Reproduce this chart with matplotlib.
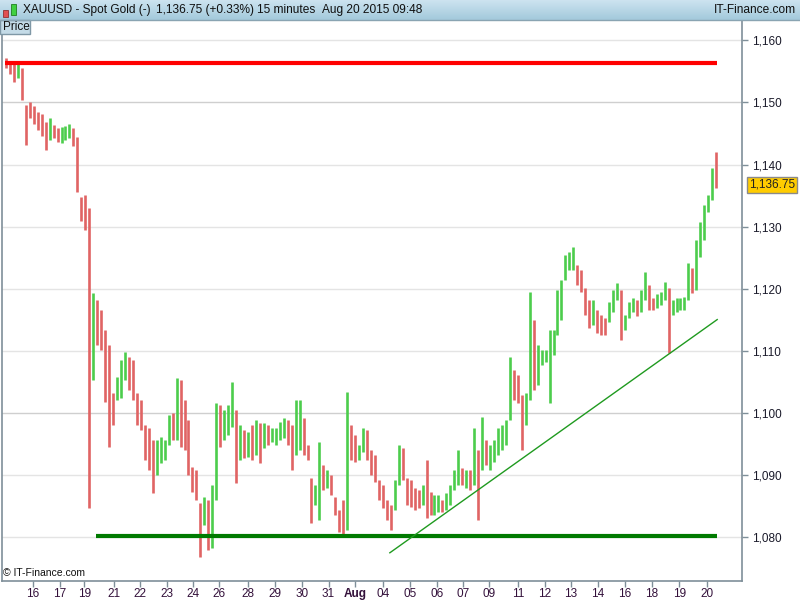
import numpy as np
import matplotlib.pyplot as plt
from matplotlib.patches import Rectangle
from matplotlib.transforms import blended_transform_factory

plt.rcParams['font.family'] = ['Liberation Sans', 'DejaVu Sans']

# XAUUSD (one bar here ~ 2.5 hours of 15 min bars)
first_open = 1156.5
highs = [1157.2, 1156.6, 1156.2, 1156.4, 1155.6, 1149.6, 1150.0, 1149.5, 1148.5, 1148.2,
         1146.9, 1147.5, 1146.4, 1145.9, 1146.1, 1146.2, 1146.6, 1145.9, 1144.5, 1134.8,
         1135.1, 1133.0, 1119.3, 1118.2, 1116.6, 1113.3, 1110.9, 1103.2, 1105.8, 1108.5,
         1109.8, 1109.0, 1108.5, 1103.2, 1102.0, 1098.0, 1097.5, 1095.6, 1095.6, 1096.1,
         1095.6, 1099.6, 1100.0, 1105.6, 1105.3, 1102.0, 1098.8, 1091.2, 1090.8, 1085.4,
         1086.4, 1085.9, 1088.3, 1101.6, 1101.2, 1100.4, 1101.2, 1105.0, 1100.4, 1098.0,
         1097.2, 1096.9, 1098.0, 1098.8, 1098.3, 1098.3, 1098.0, 1097.5, 1097.5, 1098.5,
         1099.1, 1098.8, 1098.0, 1102.0, 1102.0, 1099.1, 1094.8, 1089.5, 1088.3, 1095.3,
         1091.6, 1090.8, 1089.9, 1086.4, 1084.3, 1085.9, 1103.3, 1098.0, 1096.4, 1094.8,
         1097.5, 1097.2, 1094.0, 1093.2, 1089.1, 1088.3, 1085.9, 1085.1, 1089.1, 1094.8,
         1094.3, 1089.5, 1089.1, 1087.9, 1087.5, 1088.3, 1092.4, 1087.2, 1086.7, 1086.7,
         1085.9, 1087.0, 1088.3, 1090.8, 1094.0, 1091.1, 1090.8, 1090.8, 1097.5, 1094.0,
         1099.3, 1095.6, 1094.8, 1095.6, 1097.5, 1098.0, 1098.8, 1109.0, 1106.9, 1106.1,
         1102.9, 1103.2, 1119.5, 1115.0, 1110.9, 1110.1, 1110.1, 1113.3, 1113.3, 1119.8,
         1121.4, 1125.4, 1125.9, 1126.7, 1123.8, 1123.0, 1120.1, 1118.2, 1118.2, 1116.6,
         1115.8, 1115.3, 1117.9, 1119.8, 1120.9, 1119.8, 1115.8, 1117.9, 1118.5, 1118.2,
         1119.8, 1122.7, 1120.6, 1118.5, 1119.1, 1119.5, 1121.1, 1120.1, 1118.2, 1118.5,
         1118.5, 1118.7, 1124.1, 1123.3, 1127.9, 1130.8, 1133.5, 1135.1, 1139.5, 1142.0]
lows = [1155.6, 1154.6, 1153.3, 1154.0, 1150.4, 1143.2, 1147.5, 1146.6, 1145.6, 1144.6,
        1142.4, 1144.0, 1144.3, 1143.7, 1143.5, 1144.0, 1144.3, 1143.0, 1135.6, 1130.9,
        1129.5, 1084.6, 1105.3, 1110.9, 1110.1, 1101.7, 1094.5, 1098.0, 1102.0, 1102.4,
        1105.3, 1103.7, 1102.0, 1098.0, 1097.2, 1092.4, 1090.8, 1087.0, 1090.0, 1091.9,
        1092.4, 1094.8, 1095.6, 1095.6, 1094.5, 1094.0, 1090.0, 1087.2, 1085.9, 1076.7,
        1081.9, 1077.9, 1078.2, 1085.9, 1094.5, 1095.6, 1096.4, 1097.7, 1088.7, 1092.4,
        1092.7, 1092.9, 1092.4, 1093.2, 1091.9, 1094.3, 1094.8, 1095.3, 1094.8, 1095.6,
        1095.9, 1094.8, 1090.8, 1093.2, 1094.0, 1093.2, 1092.4, 1082.2, 1085.1, 1082.7,
        1087.5, 1087.9, 1086.7, 1083.5, 1080.8, 1080.0, 1081.1, 1092.4, 1092.0, 1092.4,
        1093.7, 1092.4, 1090.0, 1088.8, 1085.9, 1084.6, 1082.7, 1081.1, 1084.3, 1088.3,
        1089.1, 1085.1, 1084.8, 1084.3, 1084.6, 1085.1, 1083.0, 1083.5, 1083.5, 1084.0,
        1084.0, 1084.3, 1085.1, 1087.5, 1088.3, 1088.3, 1087.9, 1087.5, 1088.3, 1082.7,
        1090.8, 1091.6, 1090.8, 1092.0, 1093.2, 1094.0, 1094.8, 1098.8, 1102.0, 1101.6,
        1094.0, 1098.0, 1102.0, 1103.7, 1104.5, 1107.7, 1108.2, 1101.6, 1109.3, 1112.5,
        1115.0, 1121.4, 1123.0, 1123.0, 1120.6, 1119.5, 1115.8, 1113.7, 1114.1, 1112.9,
        1112.5, 1112.5, 1114.6, 1116.2, 1118.2, 1111.7, 1113.3, 1115.3, 1116.2, 1115.6,
        1116.2, 1118.2, 1116.6, 1116.6, 1116.9, 1117.4, 1118.2, 1109.6, 1115.8, 1116.2,
        1116.6, 1116.6, 1118.2, 1119.3, 1119.8, 1125.1, 1127.9, 1132.4, 1134.3, 1136.2]
closes = [1156.2, 1155.6, 1154.5, 1155.3, 1151.2, 1148.8, 1148.5, 1148.0, 1146.4, 1145.9,
          1144.3, 1145.9, 1145.1, 1144.3, 1144.8, 1145.1, 1145.6, 1144.3, 1136.7, 1132.7,
          1131.9, 1107.7, 1116.6, 1113.3, 1112.5, 1108.5, 1102.9, 1100.4, 1104.5, 1106.9,
          1108.5, 1106.1, 1104.5, 1100.4, 1098.8, 1095.6, 1093.2, 1092.4, 1094.0, 1094.0,
          1094.8, 1098.0, 1097.2, 1102.9, 1101.2, 1097.2, 1091.6, 1089.1, 1087.5, 1082.7,
          1084.3, 1081.1, 1085.9, 1098.8, 1097.2, 1098.0, 1099.6, 1102.9, 1095.6, 1095.6,
          1094.8, 1095.6, 1094.8, 1096.9, 1095.6, 1096.4, 1095.9, 1096.4, 1096.7, 1097.2,
          1097.5, 1096.4, 1094.8, 1098.0, 1098.0, 1095.6, 1093.7, 1086.7, 1086.7, 1090.8,
          1089.1, 1089.5, 1088.3, 1085.1, 1082.7, 1081.9, 1097.2, 1094.8, 1094.0, 1094.0,
          1095.9, 1094.3, 1092.0, 1090.8, 1087.5, 1085.9, 1084.3, 1083.5, 1087.5, 1092.4,
          1091.6, 1087.5, 1086.7, 1086.2, 1085.9, 1086.7, 1085.9, 1085.1, 1085.1, 1085.4,
          1085.1, 1085.9, 1087.5, 1089.1, 1090.0, 1089.5, 1090.0, 1088.8, 1094.0, 1090.8,
          1095.6, 1093.2, 1093.2, 1094.3, 1095.6, 1095.6, 1097.2, 1106.9, 1104.5, 1103.7,
          1100.4, 1102.0, 1113.3, 1108.5, 1108.5, 1108.8, 1109.3, 1110.9, 1111.7, 1117.4,
          1119.8, 1123.8, 1124.3, 1125.0, 1122.2, 1120.6, 1118.2, 1115.8, 1116.6, 1114.6,
          1114.1, 1113.3, 1116.6, 1118.2, 1119.8, 1114.1, 1115.0, 1116.9, 1117.4, 1116.9,
          1118.2, 1119.8, 1118.2, 1117.9, 1118.2, 1118.5, 1119.8, 1116.6, 1116.9, 1117.4,
          1117.7, 1117.9, 1122.2, 1120.6, 1126.2, 1129.1, 1132.7, 1134.3, 1138.3, 1136.75]

tick_labels = ['16', '17', '19', '21', '22', '23', '24', '26', '28', '29', '30', '31', 'Aug',
               '04', '05', '06', '07', '09', '11', '12', '13', '14', '16', '18', '19', '20']
tick_pos = [6.75, 13.6, 19.7, 27.2, 33.8, 40.5, 47.2, 53.8, 60.9, 67.75, 74.7, 81.3, 88.0,
            95.1, 101.75, 108.6, 115.25, 121.75, 129.1, 135.75, 142.4, 149.25, 155.9,
            162.75, 169.7, 176.6]

resistance = 1156.3
support = 1080.1
support_from = 22.75
trend_x = [96.75, 179.25]
trend_y = [1077.4, 1115.0]
last_price = 1136.75

W, H = 800, 600
fig = plt.figure(figsize=(8, 6), dpi=100)


def fx(x):
    return x / W


def fy(y):
    return 1 - y / H


# chart area
ax = fig.add_axes([fx(2), fy(581), fx(740), 561 / H])
n = len(closes)
idx = np.arange(n)
opens = [first_open] + closes[:-1]
cols = ['#4ccd4c' if c >= o else '#e06464' for o, c in zip(opens, closes)]

ax.vlines(idx, lows, highs, colors=cols, linewidth=1.9, zorder=3)

ax.hlines(resistance, -0.25, n - 0.75, color='#ff0000', linewidth=3.0, zorder=4)
ax.hlines(support, support_from, n - 0.75, color='#007a00', linewidth=3.0, zorder=4)
ax.plot(trend_x, trend_y, color='#1f9a1f', linewidth=1.0, zorder=4)

ax.set_xlim(-1, n + 5.5)
ax.set_ylim(1072.85, 1163.3)

yt = np.arange(1080, 1161, 10)
ax.set_yticks(yt)
ax.set_yticklabels([f'{v:,}' for v in yt])
for lab, v in zip(ax.get_yticklabels(), yt):
    if v in (1100, 1150):
        lab.set_fontweight('bold')
for v in yt:
    gc = '#cfcfcf' if v in (1100, 1150) else '#e4e4e4'
    ax.axhline(v, color=gc, linewidth=1.0, zorder=1)

ax.yaxis.tick_right()
ax.tick_params(axis='y', which='both', length=4, width=1, color='#7f8f99',
               labelsize=8.5, labelcolor='#1a1a2a', pad=3)
ax.set_xticks(tick_pos)
ax.set_xticklabels(tick_labels)
for lab in ax.get_xticklabels():
    if lab.get_text() == 'Aug':
        lab.set_fontweight('bold')
ax.tick_params(axis='x', length=4, width=1, color='#7f8f99', labelsize=8.5,
               labelcolor='#33103a', pad=1)

for s in ['left', 'right', 'bottom']:
    ax.spines[s].set_color('#7f8f99')
    ax.spines[s].set_linewidth(1.2)
ax.spines['top'].set_visible(False)

tr = blended_transform_factory(ax.transAxes, ax.transData)
ax.text(1.009, last_price, f'{last_price:,.2f}', transform=tr, ha='left', va='center',
        fontsize=8.5, color='#222222', clip_on=False,
        bbox=dict(boxstyle='square,pad=0.18', fc='#ffcc00', ec='#8a8a8a', lw=1))

ax.text(0.002, 0.006, '© IT-Finance.com', transform=ax.transAxes, fontsize=7.5,
        color='#111111', ha='left', va='bottom')

# header bar
hax = fig.add_axes([0, fy(20), 1, 20 / H])
grad = np.linspace(0, 1, 20).reshape(-1, 1)
c1 = np.array([0.80, 0.89, 0.94])
c2 = np.array([0.64, 0.79, 0.86])
img = c1 + (c2 - c1) * grad[:, :, None]
hax.imshow(np.repeat(img, 2, axis=1), aspect='auto', extent=[0, 1, 0, 1])
hax.set_axis_off()
fig.add_artist(plt.Line2D([0, 1], [fy(20), fy(20)], color='#8aa4b2', linewidth=1))

hdr = dict(fontsize=8.6, va='center', ha='left', color='#101010')
fig.text(fx(23), fy(10), 'XAUUSD - Spot Gold (-)', **hdr)
fig.text(fx(156), fy(10), '1,136.75 (+0.33%)', **hdr)
fig.text(fx(257), fy(10), '15 minutes', **hdr)
fig.text(fx(322), fy(10), 'Aug 20 2015 09:48', **hdr)
fig.text(fx(796), fy(10), 'IT-Finance.com', fontsize=8.6, va='center', ha='right',
         color='#101010')

# little candle icon
fig.add_artist(Rectangle((fx(3), fy(17)), fx(5), 7 / H, fc='#e05050', ec='#903030', lw=0.6))
fig.add_artist(Rectangle((fx(11), fy(15)), fx(5), 11 / H, fc='#40d040', ec='#208020', lw=0.6))

# "Price" tab
fig.add_artist(Rectangle((0, fy(34)), fx(30), 14 / H, fc='#c4dbe7', ec='#7f98a6', lw=1))
fig.text(fx(3), fy(27), 'Price', fontsize=8.5, va='center', ha='left', color='#101010')

fig.savefig('out.png', dpi=100)
